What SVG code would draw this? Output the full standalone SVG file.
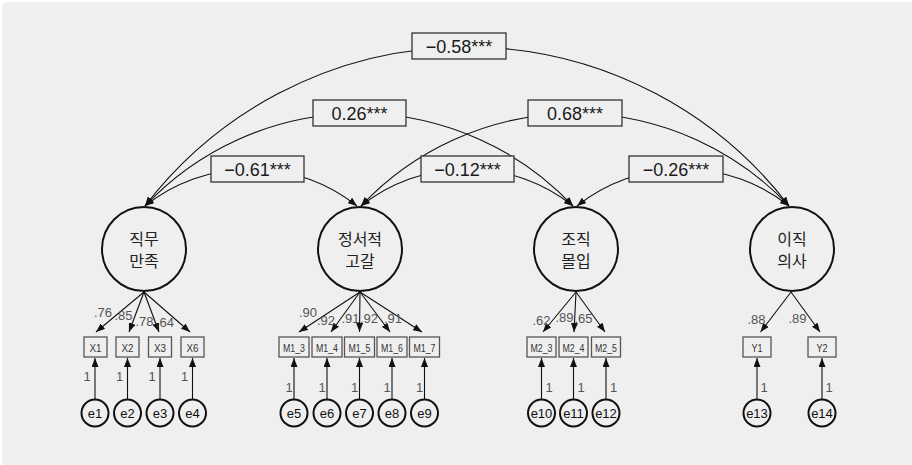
<svg xmlns="http://www.w3.org/2000/svg" width="912" height="465" viewBox="0 0 912 465">
  <style>
    .panel { fill: #efefef; }
    .latent { fill: #efefef; stroke: #111; stroke-width: 2; }
    .latent-text { font-family: "Noto Sans CJK KR", "Liberation Sans", sans-serif; font-size: 16px; fill: #222; text-anchor: middle; }
    .ind { fill: #efefef; stroke: #555; stroke-width: 1.3; }
    .ind-text { font-family: "Liberation Sans", sans-serif; font-size: 11px; fill: #333; text-anchor: middle; }
    .err { fill: #efefef; stroke: #111; stroke-width: 2; }
    .err-text { font-family: "Liberation Sans", sans-serif; font-size: 13px; fill: #111; text-anchor: middle; }
    .cov { fill: none; stroke: #111; stroke-width: 1.1; marker-start: url(#arrow); marker-end: url(#arrow); }
    .path { fill: none; stroke: #111; stroke-width: 1.1; marker-end: url(#arrow); }
    .w { font-family: "Liberation Sans", sans-serif; font-size: 13px; fill: #555; text-anchor: middle; }
    .cov-box { fill: #efefef; stroke: #333; stroke-width: 1.3; }
    .cov-text { font-family: "Liberation Sans", sans-serif; font-size: 18px; fill: #1a1a1a; text-anchor: middle; }
  </style>
  <defs>
    <marker id="arrow" viewBox="0 0 9 7" refX="9" refY="3.5" markerWidth="9" markerHeight="7" markerUnits="userSpaceOnUse" orient="auto-start-reverse">
      <path d="M0,0 L9,3.5 L0,7 z" fill="#111"/>
    </marker>
  </defs>

  <rect width="912" height="465" fill="#ffffff"/>
  <rect class="panel" x="2" y="2" width="930" height="480" rx="6"/>

  <!-- connectors: covariances, loadings, error paths -->
  <g id="connectors">
    <path class="cov" d="M145,206 A405.5,405.5 0 0 1 789,206"/>
    <path class="cov" d="M145,206 A293.8,293.8 0 0 1 573,206"/>
    <path class="cov" d="M145,206 A170.3,170.3 0 0 1 357,206"/>
    <path class="cov" d="M361,206 A170.3,170.3 0 0 1 573,206"/>
    <path class="cov" d="M361,206 A293.8,293.8 0 0 1 789,206"/>
    <path class="cov" d="M577,206 A170.3,170.3 0 0 1 789,206"/>

    <line class="path" x1="144" y1="292" x2="96" y2="332"/>
    <line class="path" x1="144" y1="292" x2="129" y2="332"/>
    <line class="path" x1="144" y1="292" x2="159" y2="332"/>
    <line class="path" x1="144" y1="292" x2="190" y2="332"/>

    <line class="path" x1="360" y1="292" x2="299" y2="332"/>
    <line class="path" x1="360" y1="292" x2="331" y2="332"/>
    <line class="path" x1="360" y1="292" x2="359.5" y2="332"/>
    <line class="path" x1="360" y1="292" x2="390" y2="332"/>
    <line class="path" x1="360" y1="292" x2="422" y2="332"/>

    <line class="path" x1="576" y1="292" x2="543" y2="332"/>
    <line class="path" x1="576" y1="292" x2="574" y2="332"/>
    <line class="path" x1="576" y1="292" x2="605" y2="332"/>

    <line class="path" x1="791" y1="292" x2="760.5" y2="332"/>
    <line class="path" x1="791" y1="292" x2="820" y2="332"/>

    <line class="path" x1="95" y1="399.5" x2="95" y2="358"/>
    <line class="path" x1="127.5" y1="399.5" x2="127.5" y2="358"/>
    <line class="path" x1="160" y1="399.5" x2="160" y2="358"/>
    <line class="path" x1="192.5" y1="399.5" x2="192.5" y2="358"/>
    <line class="path" x1="294" y1="399.5" x2="294" y2="358"/>
    <line class="path" x1="327" y1="399.5" x2="327" y2="358"/>
    <line class="path" x1="359.5" y1="399.5" x2="359.5" y2="358"/>
    <line class="path" x1="392" y1="399.5" x2="392" y2="358"/>
    <line class="path" x1="424.5" y1="399.5" x2="424.5" y2="358"/>
    <line class="path" x1="541.5" y1="399.5" x2="541.5" y2="358"/>
    <line class="path" x1="573.5" y1="399.5" x2="573.5" y2="358"/>
    <line class="path" x1="606" y1="399.5" x2="606" y2="358"/>
    <line class="path" x1="757" y1="399.5" x2="757" y2="358"/>
    <line class="path" x1="822" y1="399.5" x2="822" y2="358"/>

    <!-- standardized loadings -->
    <text class="w" x="103" y="317">.76</text>
    <text class="w" x="123.5" y="320">.85</text>
    <text class="w" x="144.5" y="326">.78</text>
    <text class="w" x="165" y="327">.64</text>
    <text class="w" x="308" y="317">.90</text>
    <text class="w" x="326" y="325">.92</text>
    <text class="w" x="350.5" y="323">.91</text>
    <text class="w" x="369" y="323">.92</text>
    <text class="w" x="393" y="323">.91</text>
    <text class="w" x="541.5" y="325">.62</text>
    <text class="w" x="564.5" y="322">.89</text>
    <text class="w" x="583.5" y="323">.65</text>
    <text class="w" x="756.5" y="324">.88</text>
    <text class="w" x="797.5" y="323">.89</text>

    <!-- fixed error weights -->
    <text class="w" x="87" y="381">1</text>
    <text class="w" x="119.5" y="381">1</text>
    <text class="w" x="152" y="381">1</text>
    <text class="w" x="184.5" y="381">1</text>
    <text class="w" x="289" y="392">1</text>
    <text class="w" x="322" y="392">1</text>
    <text class="w" x="354.5" y="392">1</text>
    <text class="w" x="387" y="392">1</text>
    <text class="w" x="419.5" y="392">1</text>
    <text class="w" x="549" y="392">1</text>
    <text class="w" x="581" y="392">1</text>
    <text class="w" x="613.5" y="392">1</text>
    <text class="w" x="764" y="392">1</text>
    <text class="w" x="829" y="392">1</text>
  </g>

  <!-- covariance labels -->
  <g id="cov-labels">
    <rect class="cov-box" x="412" y="33" width="94" height="26"/>
    <text class="cov-text" x="459" y="52.5">−0.58***</text>
    <rect class="cov-box" x="313" y="100" width="93" height="26"/>
    <text class="cov-text" x="359.5" y="119.5">0.26***</text>
    <rect class="cov-box" x="528" y="100" width="94" height="26"/>
    <text class="cov-text" x="575" y="119.5">0.68***</text>
    <rect class="cov-box" x="211" y="156" width="93" height="26"/>
    <text class="cov-text" x="257.5" y="175.5">−0.61***</text>
    <rect class="cov-box" x="421" y="156" width="93" height="26"/>
    <text class="cov-text" x="467.5" y="175.5">−0.12***</text>
    <rect class="cov-box" x="629" y="156" width="94" height="26"/>
    <text class="cov-text" x="676" y="175.5">−0.26***</text>
  </g>

  <!-- latent variables -->
  <g id="job-satisfaction">
    <circle class="latent" cx="144" cy="249" r="42"/>
    <text class="latent-text" x="144" y="245">직무</text>
    <text class="latent-text" x="144" y="267">만족</text>
  </g>
  <g id="emotional-exhaustion">
    <circle class="latent" cx="360" cy="249" r="42"/>
    <text class="latent-text" x="360" y="245">정서적</text>
    <text class="latent-text" x="360" y="267">고갈</text>
  </g>
  <g id="org-commitment">
    <circle class="latent" cx="576" cy="249" r="42"/>
    <text class="latent-text" x="576" y="245">조직</text>
    <text class="latent-text" x="576" y="267">몰입</text>
  </g>
  <g id="turnover-intention">
    <circle class="latent" cx="792" cy="249" r="42"/>
    <text class="latent-text" x="792" y="245">이직</text>
    <text class="latent-text" x="792" y="267">의사</text>
  </g>

  <!-- observed indicators -->
  <g id="X1"><rect class="ind" x="84" y="337" width="23" height="20"/><text class="ind-text" x="95.5" y="352" textLength="12" lengthAdjust="spacingAndGlyphs">X1</text></g>
  <g id="X2"><rect class="ind" x="116" y="337" width="23" height="20"/><text class="ind-text" x="127.5" y="352" textLength="12" lengthAdjust="spacingAndGlyphs">X2</text></g>
  <g id="X3"><rect class="ind" x="148.5" y="337" width="23" height="20"/><text class="ind-text" x="160" y="352" textLength="12" lengthAdjust="spacingAndGlyphs">X3</text></g>
  <g id="X6"><rect class="ind" x="181" y="337" width="23" height="20"/><text class="ind-text" x="192.5" y="352" textLength="12" lengthAdjust="spacingAndGlyphs">X6</text></g>

  <g id="M1_3"><rect class="ind" x="279" y="337" width="30" height="20"/><text class="ind-text" x="294" y="352" textLength="22" lengthAdjust="spacingAndGlyphs">M1_3</text></g>
  <g id="M1_4"><rect class="ind" x="312" y="337" width="30" height="20"/><text class="ind-text" x="327" y="352" textLength="22" lengthAdjust="spacingAndGlyphs">M1_4</text></g>
  <g id="M1_5"><rect class="ind" x="344.5" y="337" width="30" height="20"/><text class="ind-text" x="359.5" y="352" textLength="22" lengthAdjust="spacingAndGlyphs">M1_5</text></g>
  <g id="M1_6"><rect class="ind" x="377" y="337" width="30" height="20"/><text class="ind-text" x="392" y="352" textLength="22" lengthAdjust="spacingAndGlyphs">M1_6</text></g>
  <g id="M1_7"><rect class="ind" x="409.5" y="337" width="30" height="20"/><text class="ind-text" x="424.5" y="352" textLength="22" lengthAdjust="spacingAndGlyphs">M1_7</text></g>

  <g id="M2_3"><rect class="ind" x="527" y="337" width="29" height="20"/><text class="ind-text" x="541.5" y="352" textLength="22" lengthAdjust="spacingAndGlyphs">M2_3</text></g>
  <g id="M2_4"><rect class="ind" x="559" y="337" width="29" height="20"/><text class="ind-text" x="573.5" y="352" textLength="22" lengthAdjust="spacingAndGlyphs">M2_4</text></g>
  <g id="M2_5"><rect class="ind" x="591.5" y="337" width="29" height="20"/><text class="ind-text" x="606" y="352" textLength="22" lengthAdjust="spacingAndGlyphs">M2_5</text></g>

  <g id="Y1"><rect class="ind" x="743" y="337" width="28" height="20"/><text class="ind-text" x="757" y="352" textLength="11" lengthAdjust="spacingAndGlyphs">Y1</text></g>
  <g id="Y2"><rect class="ind" x="808" y="337" width="28" height="20"/><text class="ind-text" x="822" y="352" textLength="11" lengthAdjust="spacingAndGlyphs">Y2</text></g>

  <!-- error terms -->
  <g id="e1"><circle class="err" cx="95" cy="413" r="13.5"/><text class="err-text" x="95" y="417.5">e1</text></g>
  <g id="e2"><circle class="err" cx="127.5" cy="413" r="13.5"/><text class="err-text" x="127.5" y="417.5">e2</text></g>
  <g id="e3"><circle class="err" cx="160" cy="413" r="13.5"/><text class="err-text" x="160" y="417.5">e3</text></g>
  <g id="e4"><circle class="err" cx="192.5" cy="413" r="13.5"/><text class="err-text" x="192.5" y="417.5">e4</text></g>
  <g id="e5"><circle class="err" cx="294" cy="413" r="13.5"/><text class="err-text" x="294" y="417.5">e5</text></g>
  <g id="e6"><circle class="err" cx="327" cy="413" r="13.5"/><text class="err-text" x="327" y="417.5">e6</text></g>
  <g id="e7"><circle class="err" cx="359.5" cy="413" r="13.5"/><text class="err-text" x="359.5" y="417.5">e7</text></g>
  <g id="e8"><circle class="err" cx="392" cy="413" r="13.5"/><text class="err-text" x="392" y="417.5">e8</text></g>
  <g id="e9"><circle class="err" cx="424.5" cy="413" r="13.5"/><text class="err-text" x="424.5" y="417.5">e9</text></g>
  <g id="e10"><circle class="err" cx="541.5" cy="413" r="13.5"/><text class="err-text" x="541.5" y="417.5">e10</text></g>
  <g id="e11"><circle class="err" cx="573.5" cy="413" r="13.5"/><text class="err-text" x="573.5" y="417.5">e11</text></g>
  <g id="e12"><circle class="err" cx="606" cy="413" r="13.5"/><text class="err-text" x="606" y="417.5">e12</text></g>
  <g id="e13"><circle class="err" cx="757" cy="413" r="13.5"/><text class="err-text" x="757" y="417.5">e13</text></g>
  <g id="e14"><circle class="err" cx="822" cy="413" r="13.5"/><text class="err-text" x="822" y="417.5">e14</text></g>
</svg>
